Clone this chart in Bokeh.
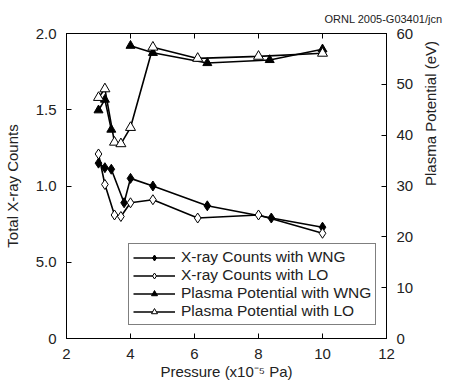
import math
from bokeh.plotting import figure
from bokeh.models import Range1d, LinearAxis, FixedTicker, Legend, LegendItem
from bokeh.embed import file_html
from bokeh.resources import INLINE

nan = float("nan")

# X-ray counts (left axis)
xray_wng_x = [3.0, 3.2, 3.4, 3.8, 4.0, 4.7, 6.4, 8.4, 10.0]
xray_wng_y = [1.15, 1.12, 1.11, 0.89, 1.05, 1.00, 0.87, 0.79, 0.73]
xray_lo_x = [3.0, 3.2, 3.5, 3.7, 4.0, 4.7, 6.1, 8.0, 10.0]
xray_lo_y = [1.21, 1.01, 0.81, 0.80, 0.89, 0.91, 0.79, 0.81, 0.69]

# Plasma potential (right axis, eV)
plasma_wng_x = [3.0, 3.2, 3.4, nan, 4.0, 4.7, 6.4, 8.35, 10.0]
plasma_wng_y = [44.9, 47.0, 41.1, nan, 57.6, 56.2, 54.2, 54.8, 56.9]
plasma_lo_x = [3.0, 3.2, 3.5, 3.7, 4.0, 4.7, 6.1, 8.0, 10.0]
plasma_lo_y = [47.4, 49.1, 38.6, 38.3, 41.5, 57.3, 55.1, 55.5, 56.1]

x_ticks = [2, 4, 6, 8, 10, 12]
left_ticks = [0, 0.5, 1.0, 1.5, 2.0]
left_tick_labels = ["0", "5.0", "1.0", "1.5", "2.0"]
right_ticks = [0, 10, 20, 30, 40, 50, 60]

FONT = "Liberation Sans"
TXT = "#222222"

p = figure(width=450, height=386, output_backend="svg", toolbar_location=None,
           x_range=Range1d(2, 12), y_range=Range1d(0, 2.0),
           min_border_left=66, min_border_right=60, min_border_top=33, min_border_bottom=48,
           title="ORNL 2005-G03401/jcn")
p.title.align = "right"
p.title.offset = -56
p.title.text_font = FONT
p.title.text_font_size = "11px"
p.title.text_font_style = "normal"
p.title.text_color = TXT
p.title.text_line_height = 0.5
p.title.standoff = 18
p.extra_y_ranges = {"pp": Range1d(0, 60)}
p.grid.visible = False
p.outline_line_color = "black"
p.outline_line_width = 1
p.background_fill_color = "white"
p.border_fill_color = "white"

def style_axis(ax, labels=True):
    ax.major_tick_in = 5
    ax.major_tick_out = 0
    ax.minor_tick_line_color = None
    ax.axis_line_color = "black"
    ax.major_tick_line_color = "black"
    ax.major_label_text_font = FONT
    ax.major_label_text_font_size = "15px"
    ax.major_label_text_color = TXT
    ax.axis_label_text_font = FONT
    ax.axis_label_text_font_size = "15px"
    ax.axis_label_text_font_style = "normal"
    ax.axis_label_text_color = TXT
    if not labels:
        ax.major_label_text_font_size = "0px"
        ax.major_label_standoff = 0

xa = p.xaxis[0]
xa.ticker = FixedTicker(ticks=x_ticks)
xa.axis_label = "Pressure (x10\u207b\u2075 Pa)"
style_axis(xa)
xa.major_label_standoff = 10
xa.axis_label_standoff = 1

ya = p.yaxis[0]
ya.ticker = FixedTicker(ticks=left_ticks)
ya.major_label_overrides = {t: l for t, l in zip(left_ticks, left_tick_labels)}
ya.axis_label = "Total X-ray Counts"
style_axis(ya)
ya.major_label_standoff = 10
ya.axis_label_standoff = 12

ra = LinearAxis(y_range_name="pp", ticker=FixedTicker(ticks=right_ticks),
                axis_label="Plasma Potential (eV)")
style_axis(ra)
ra.major_label_standoff = 10
ra.axis_label_standoff = 14
ra.axis_label_orientation = math.pi / 2
p.add_layout(ra, "right")

ta = LinearAxis(ticker=FixedTicker(ticks=x_ticks))
style_axis(ta, labels=False)
p.add_layout(ta, "above")

LW = 1.6
r1 = p.line(xray_wng_x, xray_wng_y, line_color="black", line_width=LW)
s1 = p.scatter(xray_wng_x, xray_wng_y, marker="diamond", size=10, fill_color="black", line_color="black")
r2 = p.line(xray_lo_x, xray_lo_y, line_color="black", line_width=LW)
s2 = p.scatter(xray_lo_x, xray_lo_y, marker="diamond", size=10, fill_color="white", line_color="black")
r3 = p.line(plasma_wng_x, plasma_wng_y, line_color="black", line_width=LW, y_range_name="pp")
s3 = p.scatter(plasma_wng_x, plasma_wng_y, marker="triangle", size=9, fill_color="black", line_color="black", y_range_name="pp")
r4 = p.line(plasma_lo_x, plasma_lo_y, line_color="black", line_width=LW, y_range_name="pp")
s4 = p.scatter(plasma_lo_x, plasma_lo_y, marker="triangle", size=10, fill_color="white", line_color="black", y_range_name="pp")

legend = Legend(items=[
    LegendItem(label="X-ray Counts with WNG", renderers=[r1, s1]),
    LegendItem(label="X-ray Counts with LO", renderers=[r2, s2]),
    LegendItem(label="Plasma Potential with WNG", renderers=[r3, s3]),
    LegendItem(label="Plasma Potential with LO", renderers=[r4, s4]),
], location=(62, 13))
legend.label_text_font = FONT
legend.label_text_font_size = "15.5px"
legend.label_text_color = TXT
legend.label_height = 15
legend.glyph_height = 15
legend.glyph_width = 42
legend.spacing = 0
legend.padding = 4
legend.margin = 0
legend.label_standoff = 6
legend.border_line_color = "black"
legend.border_line_width = 1
legend.background_fill_alpha = 1
p.add_layout(legend, "center")

open("out.html", "w").write(file_html(p, INLINE))
